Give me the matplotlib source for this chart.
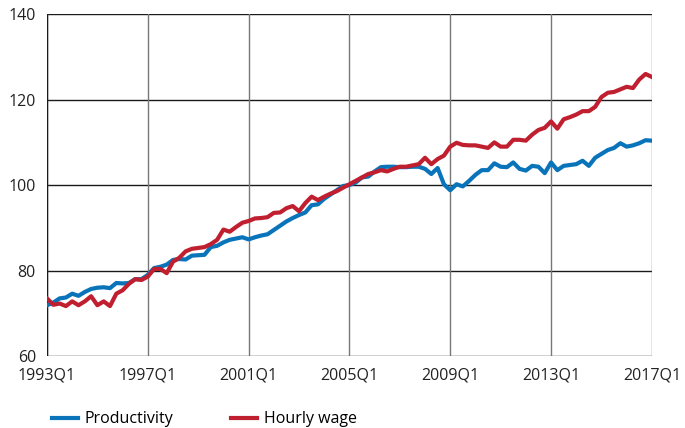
import matplotlib
matplotlib.use("Agg")
import matplotlib.pyplot as plt
import numpy as np

plt.rcParams["font.family"] = ["Open Sans", "DejaVu Sans"]

# quarterly index, 2005 = 100, from 1993Q1 to 2017Q1
productivity = [
    71.9, 72.5, 73.5, 73.7, 74.6, 74.1, 75.0, 75.7, 76.0, 76.1,
    75.9, 77.1, 77.0, 77.1, 78.0, 78.0, 79.0, 80.6, 80.9, 81.4,
    82.5, 82.7, 82.6, 83.5, 83.6, 83.7, 85.5, 85.8, 86.6, 87.2,
    87.5, 87.8, 87.3, 87.8, 88.2, 88.5, 89.5, 90.5, 91.5, 92.3,
    93.0, 93.6, 95.3, 95.5, 96.8, 97.8, 98.8, 99.8, 100.0, 100.6,
    101.8, 102.0, 103.2, 104.2, 104.3, 104.3, 104.2, 104.2, 104.3, 104.3,
    103.8, 102.6, 104.0, 100.2, 98.8, 100.2, 99.7, 101.0, 102.4, 103.5,
    103.5, 105.1, 104.3, 104.2, 105.3, 103.8, 103.4, 104.5, 104.3, 102.8,
    105.3, 103.5, 104.5, 104.7, 104.9, 105.7, 104.5, 106.4, 107.3, 108.2,
    108.7, 109.8, 109.0, 109.3, 109.8, 110.5, 110.4,
]
hourly_wage = [
    73.5, 72.0, 72.3, 71.7, 72.8, 71.9, 72.8, 74.0, 71.9, 72.8,
    71.7, 74.6, 75.4, 76.9, 78.0, 77.8, 78.6, 80.4, 80.4, 79.4,
    82.1, 83.0, 84.5, 85.1, 85.3, 85.5, 86.2, 87.2, 89.6, 89.1,
    90.2, 91.2, 91.6, 92.2, 92.3, 92.5, 93.5, 93.6, 94.6, 95.1,
    93.9, 95.8, 97.3, 96.5, 97.3, 98.0, 98.6, 99.4, 100.2, 101.0,
    101.8, 102.6, 103.0, 103.5, 103.2, 103.8, 104.3, 104.3, 104.6, 104.9,
    106.4, 104.9, 106.1, 106.9, 109.0, 109.9, 109.4, 109.3, 109.3, 109.0,
    108.7, 110.0, 109.0, 109.0, 110.6, 110.6, 110.4, 111.8, 112.9, 113.4,
    114.9, 113.2, 115.4, 115.9, 116.5, 117.3, 117.3, 118.3, 120.6, 121.6,
    121.8, 122.4, 123.0, 122.7, 124.7, 126.0, 125.3,
]
tick_labels = ["1993Q1", "1997Q1", "2001Q1", "2005Q1", "2009Q1", "2013Q1", "2017Q1"]
y_ticks = [60, 80, 100, 120, 140]

quarters = np.arange(len(productivity))

fig = plt.figure(figsize=(6.85, 4.28), dpi=100)
ax = fig.add_axes([0.0686, 0.168, 0.883, 0.799])

ax.plot(quarters, productivity, color="#0A74BA", lw=3.0, label="Productivity", zorder=3)
ax.plot(quarters, hourly_wage, color="#C01F30", lw=3.0, label="Hourly wage", zorder=3)

ax.set_xlim(0, len(productivity) - 1)
ax.set_ylim(60, 140)
ax.set_xticks(quarters[::16])
ax.set_xticklabels(tick_labels)
ax.set_yticks(y_ticks)
ax.tick_params(length=0, labelsize=11.5, colors="#222222")
ax.tick_params(axis="x", pad=8)
ax.tick_params(axis="y", pad=8)

for y in y_ticks:
    ax.axhline(y, color="#1a1a1a", lw=1.0, zorder=1)
for x in quarters[::16]:
    ax.axvline(x, color="#777777", lw=1.0, zorder=1)
for s in ax.spines.values():
    s.set_visible(False)
ax.axvline(0, color="#1a1a1a", lw=1.0, zorder=2)

fig.legend(loc="lower left", bbox_to_anchor=(0.055, -0.032), ncol=2, frameon=False,
           fontsize=11.5, handlelength=1.6, handletextpad=0.45, columnspacing=3.6)

fig.savefig("out.png", dpi=100)
